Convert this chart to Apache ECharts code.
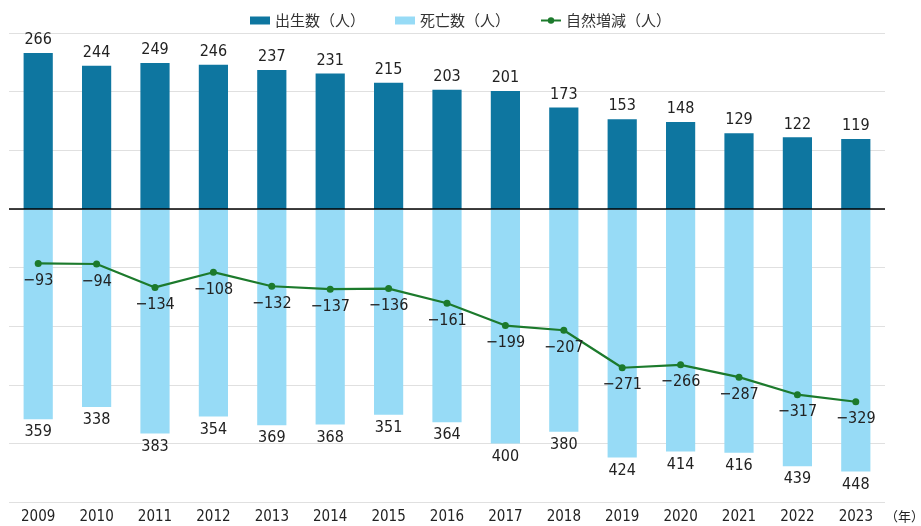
<!DOCTYPE html>
<html>
<head>
<meta charset="utf-8">
<script src="https://cdn.jsdelivr.net/npm/echarts@6/dist/echarts.min.js"></script>
<style>
html, body { margin: 0; padding: 0; background: #fff; }
#main { width: 921px; height: 526px; }
</style>
</head>
<body>
<div id="main"></div>
<script>
var years = ['2009', '2010', '2011', '2012', '2013', '2014', '2015', '2016', '2017', '2018', '2019', '2020', '2021', '2022', '2023'];
var births = [266, 244, 249, 246, 237, 231, 215, 203, 201, 173, 153, 148, 129, 122, 119];
var deaths = [359, 338, 383, 354, 369, 368, 351, 364, 400, 380, 424, 414, 416, 439, 448];
var natural = [-93, -94, -134, -108, -132, -137, -136, -161, -199, -207, -271, -266, -287, -317, -329];

var numFont = '"Liberation Sans Narrow", "DejaVu Sans Condensed", "Noto Sans CJK JP", sans-serif';
var cjkFont = '"Noto Sans CJK JP", sans-serif';

var chart = echarts.init(document.getElementById('main'));
chart.setOption({
    animation: false,
    legend: {
        top: 8,
        left: 'center',
        itemWidth: 20,
        itemHeight: 8,
        itemGap: 30,
        textStyle: { fontFamily: cjkFont, fontSize: 15, color: '#333' },
        data: [
            { name: '出生数（人）', icon: 'rect' },
            { name: '死亡数（人）', icon: 'rect' },
            { name: '自然増減（人）' }
        ]
    },
    grid: { left: 9, right: 36, top: 33, bottom: 24, outerBoundsMode: 'none' },
    xAxis: {
        type: 'category',
        data: years,
        axisLine: { show: false, onZero: false },
        axisTick: { show: false },
        axisLabel: { fontFamily: numFont, fontSize: 15, color: '#222', margin: 8 },
        name: '（年）',
        nameLocation: 'end',
        nameGap: 0,
        nameTextStyle: { fontFamily: cjkFont, fontSize: 13, color: '#222', verticalAlign: 'top', padding: [8, 0, 0, 0] }
    },
    yAxis: {
        type: 'value',
        min: -500,
        max: 300,
        interval: 100,
        axisLabel: { show: false },
        axisLine: { show: false },
        axisTick: { show: false },
        splitLine: { lineStyle: { color: '#e0e0e0', width: 1 } }
    },
    series: [
        {
            name: '出生数（人）',
            type: 'bar',
            data: births,
            barWidth: '50%',
            barGap: '-100%',
            itemStyle: { color: '#0e76a0' },
            label: {
                show: true,
                position: 'top',
                distance: 5,
                fontFamily: numFont,
                fontSize: 16,
                color: '#222'
            },
            markLine: {
                silent: true,
                symbol: 'none',
                label: { show: false },
                lineStyle: { color: '#000', type: 'solid', width: 1.5 },
                data: [{ yAxis: 0 }]
            }
        },
        {
            name: '死亡数（人）',
            type: 'bar',
            data: deaths.map(function (v) { return -v; }),
            barWidth: '50%',
            itemStyle: { color: '#97dbf6' },
            label: {
                show: true,
                position: 'bottom',
                distance: 5,
                fontFamily: numFont,
                fontSize: 16,
                color: '#222',
                formatter: function (p) { return Math.abs(p.value); }
            }
        },
        {
            name: '自然増減（人）',
            type: 'line',
            data: natural,
            symbol: 'circle',
            symbolSize: 7,
            itemStyle: { color: '#1c7a2c' },
            lineStyle: { color: '#1c7a2c', width: 2.2 },
            label: {
                show: true,
                position: 'bottom',
                distance: 6,
                fontFamily: numFont,
                fontSize: 16,
                color: '#222',
                formatter: function (p) { return '\u2212' + Math.abs(p.value); }
            },
            z: 5
        }
    ]
});
</script>
</body>
</html>
